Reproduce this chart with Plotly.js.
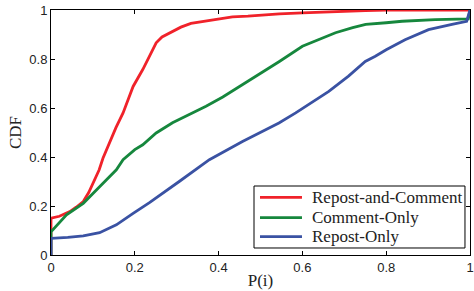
<!DOCTYPE html>
<html>
<head>
<meta charset="utf-8">
<script src="https://cdn.plot.ly/plotly-3.0.1.min.js"></script>
<style>html,body{margin:0;padding:0;background:#fff;}#chart{width:474px;height:291px;}</style>
</head>
<body>
<div id="chart"></div>
<script>
var seriesNames = ["Repost-and-Comment", "Comment-Only", "Repost-Only"];

var redX = [0,0,0.02,0.045,0.06,0.077,0.09,0.1,0.115,0.124,0.14,0.155,0.172,0.185,0.196,0.219,0.235,0.251,0.265,0.283,0.31,0.334,0.36,0.386,0.433,0.47,0.5,0.545,0.6,0.67,0.75,0.8,1];
var redY = [0,0.15,0.158,0.177,0.195,0.218,0.255,0.293,0.348,0.395,0.46,0.52,0.58,0.64,0.688,0.757,0.815,0.866,0.89,0.907,0.93,0.945,0.952,0.958,0.972,0.975,0.979,0.984,0.988,0.994,0.998,1,1];

var greenX = [0,0,0.037,0.077,0.116,0.156,0.172,0.2,0.219,0.251,0.29,0.33,0.37,0.41,0.449,0.497,0.545,0.6,0.64,0.679,0.72,0.751,0.8,0.838,0.917,0.996,1];
var greenY = [0,0.095,0.164,0.211,0.279,0.348,0.389,0.43,0.45,0.498,0.54,0.573,0.607,0.645,0.686,0.736,0.79,0.852,0.88,0.907,0.928,0.941,0.948,0.954,0.961,0.964,1];

var blueX = [0,0,0.04,0.077,0.116,0.156,0.196,0.235,0.306,0.378,0.457,0.496,0.544,0.584,0.663,0.71,0.75,0.774,0.8,0.845,0.901,0.957,0.992,1];
var blueY = [0,0.068,0.072,0.078,0.091,0.123,0.17,0.214,0.30,0.389,0.463,0.498,0.539,0.58,0.668,0.73,0.79,0.811,0.838,0.879,0.92,0.941,0.954,1];

var tickVals = [0,0.2,0.4,0.6,0.8,1];
var tickText = ["0","0.2","0.4","0.6","0.8","1"];

var colors = ["#f0222a", "#16873d", "#3a52a3"];

var traces = [
  {x: redX, y: redY, name: seriesNames[0]},
  {x: greenX, y: greenY, name: seriesNames[1]},
  {x: blueX, y: blueY, name: seriesNames[2]}
].map(function(t, i){
  t.type = "scatter"; t.mode = "lines";
  t.line = {color: colors[i], width: 2.8};
  return t;
});

// legend drawn as a framed box in paper coordinates
var legBox = {x0: 0.4845, x1: 0.988, y0: 0.0286, y1: 0.2816};
var legRows = [0.2355, 0.1522, 0.0747];
var legLineX = [0.4988, 0.599];
var legTextX = 0.6174;

var shapes = [{
  type: "rect", xref: "paper", yref: "paper",
  x0: legBox.x0, x1: legBox.x1, y0: legBox.y0, y1: legBox.y1,
  line: {color: "#000", width: 1}, fillcolor: "#fff", layer: "above"
}];
var annotations = [];
seriesNames.forEach(function(name, i){
  shapes.push({
    type: "line", xref: "paper", yref: "paper",
    x0: legLineX[0], x1: legLineX[1], y0: legRows[i], y1: legRows[i],
    line: {color: colors[i], width: 2.8}, layer: "above"
  });
  annotations.push({
    xref: "paper", yref: "paper", x: legTextX, y: legRows[i],
    xanchor: "left", yanchor: "middle", showarrow: false, text: name,
    font: {family: "Liberation Serif, Times New Roman, serif", size: 17, color: "#222"}
  });
});

var axisCommon = {
  range: [0,1], tickvals: tickVals, ticktext: tickText,
  ticks: "inside", ticklen: 4, tickwidth: 1, tickcolor: "#000",
  showline: true, linecolor: "#000", linewidth: 1, mirror: "ticks",
  showgrid: false, zeroline: false, ticklabeloverflow: "allow",
  tickfont: {family: "Liberation Sans, Arial, sans-serif", size: 13, color: "#222"}
};

var layout = {
  width: 474, height: 291,
  margin: {l: 51, r: 4, t: 10, b: 36},
  paper_bgcolor: "#fff", plot_bgcolor: "#fff",
  showlegend: false,
  xaxis: Object.assign({}, axisCommon, {
    title: {text: "P(i)", font: {family: "Liberation Serif, Times New Roman, serif", size: 17, color: "#222"}, standoff: 0}
  }),
  yaxis: Object.assign({}, axisCommon, {
    title: {text: "CDF", font: {family: "Liberation Serif, Times New Roman, serif", size: 17, color: "#222"}, standoff: 3}
  }),
  shapes: shapes,
  annotations: annotations
};

Plotly.newPlot("chart", traces, layout, {displayModeBar: false, staticPlot: true});
</script>
</body>
</html>
